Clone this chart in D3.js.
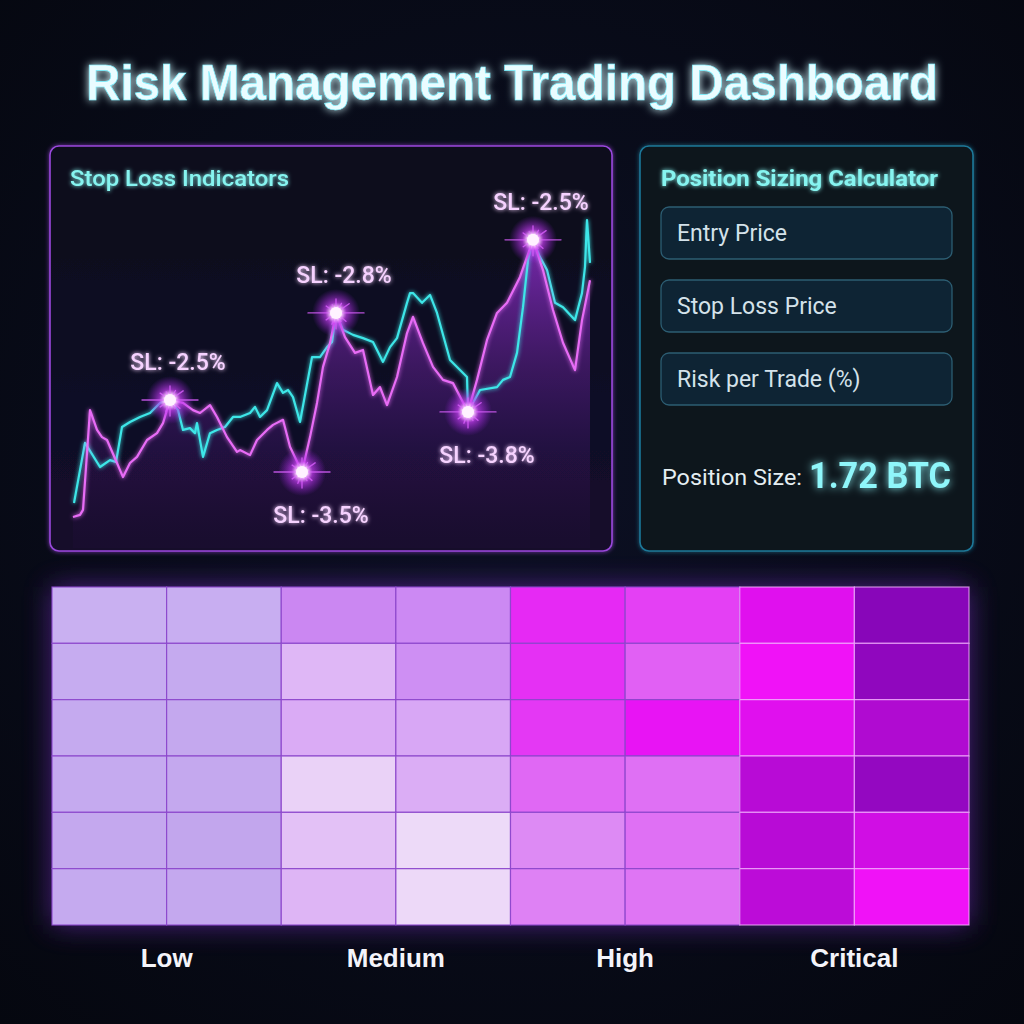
<!DOCTYPE html>
<html>
<head>
<meta charset="utf-8">
<script src="https://cdn.jsdelivr.net/npm/d3@7"></script>
<style>
  html, body { margin: 0; padding: 0; background: #070a18; }
  svg { display: block; }
</style>
</head>
<body>
<div id="chart"></div>
<script>
// --- data ---
// price paths, [bar index, price index]
const cyanSeries = [[0.4,7.5],[2.6,24.2],[5.6,17.5],[7.6,19.4],[8.8,18.9],[10,28.6],[11.6,30],[13.6,31.4],[15.6,32.5],[17.6,35.3],[19.6,36.1],[21.2,33.3],[22.2,27.8],[23.6,28.3],[24.6,26.9],[25,29.7],[26.2,20.3],[27.6,26.9],[29,27.8],[30.6,28.6],[32.2,31.4],[33.6,31.4],[35.6,32.5],[36.6,34.2],[37.6,31.4],[39,33.3],[41,40.8],[42.2,38.1],[43.2,38.9],[44.2,36.9],[45.6,30],[48,48],[49.6,48],[51,50.8],[52,52.2],[52.8,60.3],[54.2,55.6],[56.2,54.2],[58.2,53.3],[60.2,52.2],[62.2,46.7],[63.6,50.8],[65,53.3],[67,63.1],[67.6,65.8],[68.2,65.8],[70,63.1],[71.6,65.3],[73,60.3],[75.6,47.2],[79,42.5],[79.2,32.8],[81.6,38.9],[85,39.7],[86.2,41.7],[87.6,42.5],[89,49.2],[90.2,61.9],[91.2,75],[92.2,80.6],[93.6,75.8],[95,72.2],[96.6,63.1],[98.2,61.9],[100.6,58.3],[102,65.8],[102.6,73.1],[103,86.1],[103.6,74.2]];
const magentaSeries = [[0.2,3.6],[1.6,4.2],[2.2,5.6],[3.6,33.3],[5,27.8],[6,25.8],[7,25],[9,18.6],[10.2,14.7],[11.6,18.6],[13,20.3],[15,25],[17,26.9],[18.2,29.7],[19.6,36.1],[22.2,35.3],[24.2,33.3],[25.6,32.5],[27.6,34.7],[29,31.4],[31,25.8],[33,21.7],[33.6,22.2],[35.6,20.8],[37,25],[39,27.8],[40.2,29.2],[42.2,30.6],[43.6,23.1],[46,16.1],[47.6,25.8],[49,35.3],[50.2,45.3],[51.6,51.9],[52.8,60.3],[54.6,53.6],[56.6,49.2],[58.2,50],[60.2,37.5],[61.6,39.7],[63,34.7],[65,42.5],[67,54.7],[68.2,59.2],[70.2,51.9],[72.2,45.3],[74.2,41.7],[76.2,40.8],[79.2,32.8],[81,41.7],[83,52.8],[85,60.3],[87,63.1],[89.6,70.3],[92.2,80.6],[94.2,72.2],[96.2,61.1],[98.2,52],[100.6,44.4],[102,58.3],[103.6,69.4]];

const stopLossT = [19.6, 46, 52.8, 79.2, 92.2];
const stopLossV = [36.1, 16.1, 60.3, 32.8, 80.6];
const stopLossText = ["SL: -2.5%", "SL: -3.5%", "SL: -2.8%", "SL: -3.8%", "SL: -2.5%"];
const stopLossSide = ["above", "below", "above", "below", "above"];

const calcFields = ["Entry Price", "Stop Loss Price", "Risk per Trade (%)"];
const positionSize = "1.72 BTC";

const riskLevels = ["Low", "Medium", "High", "Critical"];
// heatmap intensity 0..1, rows top->bottom, 8 columns (2 per risk level)
const riskGrid = [
  [0.2, 0.3, 0.92, 0.90, 0.81, 0.64, 0.18, 0.98],
  [0.4, 0.5, 0.40, 0.84, 0.76, 0.40, 0.04, 0.91],
  [0.5, 0.6, 0.53, 0.58, 0.70, 0.97, 0.18, 0.62],
  [0.5, 0.6, 0.11, 0.51, 0.34, 0.28, 0.55, 0.87],
  [0.6, 0.7, 0.29, 0.02, 0.09, 0.28, 0.55, 0.33],
  [0.5, 0.6, 0.42, 0.03, 0.16, 0.25, 0.51, 0.04]
];

const W = 1024, H = 1024;
const svg = d3.select("#chart").append("svg").attr("width", W).attr("height", H);
const defs = svg.append("defs");

function glow(id, sd) {
  const f = defs.append("filter").attr("id", id)
    .attr("x", "-30%").attr("y", "-30%").attr("width", "160%").attr("height", "160%");
  f.append("feGaussianBlur").attr("in", "SourceGraphic").attr("stdDeviation", sd).attr("result", "b");
  const m = f.append("feMerge");
  m.append("feMergeNode").attr("in", "b");
  m.append("feMergeNode").attr("in", "SourceGraphic");
}
glow("glowS", 2);
glow("glowM", 4);
glow("glowL", 8);
defs.append("filter").attr("id", "blurBig").attr("x", "-20%").attr("y", "-20%").attr("width", "140%").attr("height", "140%")
  .append("feGaussianBlur").attr("stdDeviation", 14);

const bg = defs.append("radialGradient").attr("id", "bg").attr("cx", "50%").attr("cy", "45%").attr("r", "75%");
bg.append("stop").attr("offset", "0%").attr("stop-color", "#0c1024");
bg.append("stop").attr("offset", "100%").attr("stop-color", "#05070f");
svg.append("rect").attr("width", W).attr("height", H).attr("fill", "url(#bg)");

// title
svg.append("text")
  .attr("x", 512).attr("y", 100)
  .attr("text-anchor", "middle")
  .attr("font-family", "Liberation Sans, Arial, sans-serif")
  .attr("font-weight", 700).attr("font-size", 50)
  .attr("textLength", 852).attr("lengthAdjust", "spacingAndGlyphs")
  .attr("fill", "#eafcff").attr("stroke", "#6ff0ff").attr("stroke-width", 0.6)
  .attr("filter", "url(#glowM)")
  .text("Risk Management Trading Dashboard");

// ---------- stop loss panel ----------
const p1 = {x: 50, y: 146, w: 562, h: 405};
const panelFill = defs.append("linearGradient").attr("id", "p1fill").attr("x1", 0).attr("y1", 0).attr("x2", 0).attr("y2", 1);
panelFill.append("stop").attr("offset", "0%").attr("stop-color", "#080a1a");
panelFill.append("stop").attr("offset", "100%").attr("stop-color", "#140c2c");
svg.append("rect").attr("x", p1.x).attr("y", p1.y).attr("width", p1.w).attr("height", p1.h).attr("rx", 9)
  .attr("fill", "url(#p1fill)").attr("stroke", "#9a48dc").attr("stroke-width", 1.6).attr("filter", "url(#glowS)");
svg.append("text").attr("x", 70).attr("y", 186)
  .attr("font-family", "Roboto, sans-serif").attr("font-weight", 500).attr("font-size", 22)
  .attr("textLength", 219).attr("lengthAdjust", "spacingAndGlyphs")
  .attr("fill", "#86f4f0").attr("filter", "url(#glowS)")
  .text("Stop Loss Indicators");

const x = d3.scaleLinear().domain([0, 104]).range([72, 592]);
const y = d3.scaleLinear().domain([0, 100]).range([530, 170]);

const area = d3.area().x(d => x(d[0])).y0(y(-5)).y1(d => y(d[1]));
const line = d3.line().x(d => x(d[0])).y(d => y(d[1]));

const ag = defs.append("linearGradient").attr("id", "areaG")
  .attr("gradientUnits", "userSpaceOnUse").attr("x1", 0).attr("x2", 0).attr("y1", 240).attr("y2", 540);
ag.append("stop").attr("offset", "0%").attr("stop-color", "#9230d0").attr("stop-opacity", 0.8);
ag.append("stop").attr("offset", "100%").attr("stop-color", "#2a0e4a").attr("stop-opacity", 0.15);

svg.append("path").datum(magentaSeries).attr("d", area).attr("fill", "url(#areaG)");

svg.append("path").datum(cyanSeries).attr("d", line)
  .attr("fill", "none").attr("stroke", "#3ee6e8").attr("stroke-width", 2.2).attr("stroke-linejoin", "round")
  .attr("filter", "url(#glowS)");
svg.append("path").datum(magentaSeries).attr("d", line)
  .attr("fill", "none").attr("stroke", "#e86cf6").attr("stroke-width", 2.2).attr("stroke-linejoin", "round")
  .attr("filter", "url(#glowS)");

// stop loss bursts
const burst = defs.append("radialGradient").attr("id", "burst");
burst.append("stop").attr("offset", "0%").attr("stop-color", "#ffffff");
burst.append("stop").attr("offset", "22%").attr("stop-color", "#f6b4ff");
burst.append("stop").attr("offset", "45%").attr("stop-color", "#c23cf0").attr("stop-opacity", 0.7);
burst.append("stop").attr("offset", "100%").attr("stop-color", "#9a20e0").attr("stop-opacity", 0);

const rays = [[0, 28], [180, 28], [90, 14], [270, 16], [35, 16], [145, 12], [215, 12], [320, 13], [60, 11], [250, 12], [115, 9], [300, 10]];
const sl = svg.append("g").selectAll("g").data(stopLossT).join("g")
  .attr("transform", (d, i) => `translate(${x(d)},${y(stopLossV[i])})`);
sl.append("circle").attr("r", 24).attr("fill", "url(#burst)");
sl.selectAll("line").data(rays).join("line")
  .attr("x1", 0).attr("y1", 0)
  .attr("x2", r => Math.cos(r[0] * Math.PI / 180) * r[1])
  .attr("y2", r => -Math.sin(r[0] * Math.PI / 180) * r[1])
  .attr("stroke", "#d45cf8").attr("stroke-width", 1.4).attr("stroke-linecap", "round")
  .attr("opacity", 0.85);
sl.append("circle").attr("r", 6).attr("fill", "#fff2ff").attr("filter", "url(#glowS)");

svg.append("g").selectAll("text").data(stopLossT).join("text")
  .attr("x", (d, i) => x(d) + (stopLossSide[i] === "above" ? 8 : 19))
  .attr("y", (d, i) => y(stopLossV[i]) + (stopLossSide[i] === "above" ? -30 : 51))
  .attr("text-anchor", "middle")
  .attr("font-family", "Roboto, sans-serif").attr("font-weight", 500).attr("font-size", 23)
  .attr("fill", "#f6d2ff").attr("filter", "url(#glowS)")
  .text((d, i) => stopLossText[i]);

// ---------- position sizing panel ----------
const p2 = {x: 640, y: 146, w: 333, h: 405};
svg.append("rect").attr("x", p2.x).attr("y", p2.y).attr("width", p2.w).attr("height", p2.h).attr("rx", 9)
  .attr("fill", "#07121f").attr("stroke", "#1f7898").attr("stroke-width", 1.6).attr("filter", "url(#glowS)");
svg.append("text").attr("x", 661).attr("y", 186)
  .attr("font-family", "Roboto, sans-serif").attr("font-weight", 700).attr("font-size", 22)
  .attr("textLength", 277).attr("lengthAdjust", "spacingAndGlyphs")
  .attr("fill", "#86f4f0").attr("filter", "url(#glowS)")
  .text("Position Sizing Calculator");

const fy = d3.scaleBand().domain(calcFields).range([207, 405]).paddingInner(0.288);
const fields = svg.append("g").selectAll("g").data(calcFields).join("g");
fields.append("rect").attr("x", 661).attr("y", d => fy(d)).attr("width", 291).attr("height", fy.bandwidth())
  .attr("rx", 8).attr("fill", "#0e2434").attr("stroke", "#2c5d72").attr("stroke-width", 1.3);
fields.append("text").attr("x", 677).attr("y", d => fy(d) + fy.bandwidth() / 2 + 8)
  .attr("font-family", "Roboto, sans-serif").attr("font-size", 23).attr("fill", "#d4e2ea")
  .text(d => d);

svg.append("text").attr("x", 662).attr("y", 485)
  .attr("font-family", "Roboto, sans-serif").attr("font-size", 22).attr("fill", "#e4eef2")
  .attr("textLength", 140).attr("lengthAdjust", "spacingAndGlyphs")
  .text("Position Size:");
svg.append("text").attr("x", 809).attr("y", 488)
  .attr("font-family", "Roboto, sans-serif").attr("font-weight", 700).attr("font-size", 37)
  .attr("textLength", 142).attr("lengthAdjust", "spacingAndGlyphs")
  .attr("fill", "#8ff6fa").attr("filter", "url(#glowM)")
  .text(positionSize);

// ---------- risk heatmap ----------
const cols = d3.range(riskGrid[0].length);
const rows = d3.range(riskGrid.length);
const hx = d3.scaleBand().domain(cols).range([52, 969]);
const hy = d3.scaleBand().domain(rows).range([587, 925]);
const levelX = d3.scalePoint().domain(riskLevels).range([hx(1), hx(7)]);

const levelColor = {
  Low: d3.scaleLinear().domain([0, 1]).range(["#ccb4f3", "#bea0eb"]),
  Medium: d3.scaleLinear().domain([0, 1]).range(["#eedcf8", "#c880f2"]),
  High: d3.scaleLinear().domain([0, 1]).range(["#dc96f4", "#e810f4"]),
  Critical: d3.scaleLinear().domain([0, 1]).range(["#f412fa", "#8606b8"])
};

// glow behind heatmap
svg.append("rect").attr("x", 52).attr("y", 587).attr("width", 917).attr("height", 338)
  .attr("fill", "#6a2ab0").attr("opacity", 0.7).attr("filter", "url(#blurBig)");

const cells = rows.flatMap(r => cols.map(c => ({r, c, v: riskGrid[r][c], level: riskLevels[Math.floor(c / 2)]})));
svg.append("g").selectAll("rect").data(cells).join("rect")
  .attr("x", d => hx(d.c)).attr("y", d => hy(d.r))
  .attr("width", hx.bandwidth()).attr("height", hy.bandwidth())
  .attr("fill", d => levelColor[d.level](d.v))
  .attr("stroke", d => d.level === "Critical" ? "#f6b4ff" : "#8c46cc")
  .attr("stroke-opacity", d => d.level === "Critical" ? 0.75 : 0.9)
  .attr("stroke-width", 1.2);

svg.append("g").selectAll("text").data(riskLevels).join("text")
  .attr("x", d => levelX(d)).attr("y", 967)
  .attr("text-anchor", "middle")
  .attr("font-family", "Liberation Sans, Arial, sans-serif").attr("font-weight", 700).attr("font-size", 26)
  .attr("fill", "#f4f4fa")
  .text(d => d);
</script>
</body>
</html>
